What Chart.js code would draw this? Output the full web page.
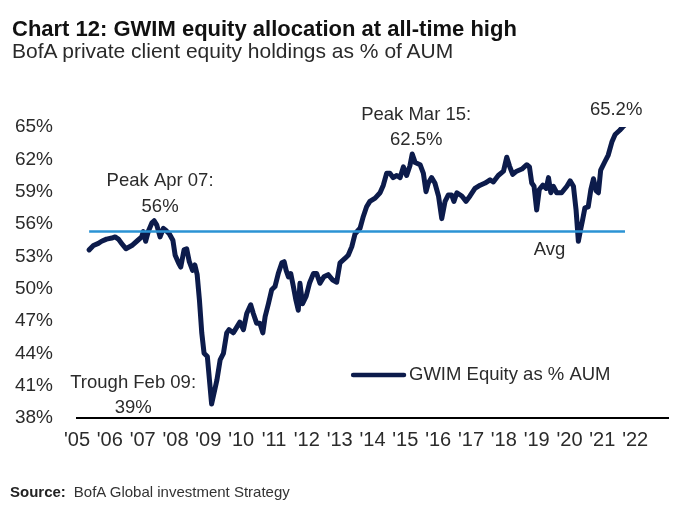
<!DOCTYPE html>
<html>
<head>
<meta charset="utf-8">
<script src="https://cdn.jsdelivr.net/npm/chart.js@4.4.0/dist/chart.umd.min.js"></script>
<style>
html,body{margin:0;padding:0;background:#fff;}
#wrap{position:relative;width:680px;height:515px;overflow:hidden;font-family:"Liberation Sans",Arial,sans-serif;background:#fff;}
#c{position:absolute;left:0;top:0;}
.t{position:absolute;white-space:nowrap;line-height:1;}
</style>
</head>
<body>
<div id="wrap">
  <canvas id="c" width="680" height="515"></canvas>
  <div class="t" id="title" style="left:12px;top:18.4px;font-size:22px;font-weight:bold;color:#111;">Chart 12: GWIM equity allocation at all-time high</div>
  <div class="t" id="subtitle" style="left:12px;top:40.2px;font-size:21px;color:#2a2a2a;">BofA private client equity holdings as % of AUM</div>
  <div class="t" id="source" style="left:10px;top:484.3px;font-size:15px;color:#222;"><b>Source:</b><span style="margin-left:8px;color:#333;">BofA Global investment Strategy</span></div>
</div>
<script>
// ---------------- DATA ----------------
const seriesLabel = 'GWIM Equity as % AUM';
const dates = [
  2005.37,2005.50,2005.65,2005.75,2005.90,2006.06,2006.16,2006.26,2006.36,2006.49,
  2006.67,2006.82,2006.97,2007.02,2007.09,2007.17,2007.28,2007.35,2007.43,2007.53,
  2007.63,2007.71,2007.81,2007.92,2007.99,2008.09,2008.16,2008.26,2008.34,2008.42,
  2008.52,2008.59,2008.66,2008.73,2008.80,2008.87,2008.97,2009.10,2009.26,2009.36,
  2009.46,2009.56,2009.63,2009.76,2009.96,2010.07,2010.17,2010.29,2010.37,2010.47,
  2010.57,2010.66,2010.73,2010.83,2010.93,2011.03,2011.13,2011.24,2011.31,2011.37,
  2011.44,2011.51,2011.59,2011.67,2011.74,2011.79,2011.87,2011.98,2012.08,2012.20,
  2012.30,2012.40,2012.52,2012.65,2012.79,2012.91,2013.01,2013.16,2013.26,2013.37,
  2013.47,2013.62,2013.72,2013.82,2013.92,2014.08,2014.23,2014.33,2014.43,2014.53,
  2014.63,2014.74,2014.84,2014.94,2015.04,2015.14,2015.21,2015.30,2015.45,2015.55,
  2015.63,2015.70,2015.80,2015.90,2016.01,2016.11,2016.21,2016.31,2016.41,2016.48,
  2016.57,2016.72,2016.85,2016.97,2017.12,2017.28,2017.43,2017.58,2017.68,2017.83,
  2017.99,2018.09,2018.17,2018.27,2018.39,2018.55,2018.70,2018.78,2018.85,2018.92,
  2019.00,2019.08,2019.19,2019.29,2019.36,2019.43,2019.51,2019.61,2019.76,2019.92,
  2020.02,2020.12,2020.20,2020.27,2020.34,2020.40,2020.47,2020.57,2020.65,2020.73,
  2020.81,2020.88,2020.95,2021.08,2021.18,2021.29,2021.39,2021.53,2021.62,2021.69
];
const values = [
  53.6,54.0,54.2,54.4,54.6,54.7,54.8,54.6,54.2,53.7,
  54.0,54.4,54.8,55.3,54.4,55.3,56.1,56.3,55.9,54.8,
  55.6,55.4,55.1,54.5,53.1,52.4,52.0,53.6,53.7,52.5,
  51.7,52.2,51.3,48.9,45.9,44.0,43.7,39.3,41.5,43.4,
  44.0,45.9,46.2,45.9,46.9,46.2,47.7,48.5,47.7,46.8,
  46.8,45.9,47.4,48.6,49.9,50.2,51.4,52.4,52.5,51.7,
  51.1,51.4,50.2,48.9,48.0,50.5,48.6,49.3,50.5,51.4,
  51.4,50.5,51.1,51.3,50.8,50.6,52.4,52.8,53.1,53.9,
  55.1,55.6,56.7,57.6,58.1,58.4,58.9,59.6,60.7,60.7,
  60.3,60.5,60.3,61.3,60.5,61.4,62.5,61.7,61.5,60.7,
  59.0,59.8,60.3,59.8,58.6,56.5,58.1,58.7,58.7,58.1,
  58.9,58.6,58.1,58.6,59.3,59.6,59.8,60.1,59.9,60.5,
  60.9,62.2,61.4,60.6,60.9,61.1,61.5,61.3,59.8,59.5,
  57.3,59.2,59.6,59.3,60.3,58.9,59.5,58.9,58.9,59.5,
  60.0,59.5,57.3,54.4,55.5,56.4,57.5,57.6,59.2,60.2,
  59.1,58.9,61.0,61.8,62.4,63.6,64.3,64.7,65.0,65.2
];
const avgValue = 55.3;
const avgDates = [2005.37, 2021.69];
const xTickYears = [2005,2006,2007,2008,2009,2010,2011,2012,2013,2014,2015,2016,2017,2018,2019,2020,2021,2022];
const xTickLabels = ["'05","'06","'07","'08","'09","'10","'11","'12","'13","'14","'15","'16","'17","'18","'19","'20","'21","'22"];
const yTicks = [38,41,44,47,50,53,56,59,62,65];
const annotationTexts = ['Peak Apr 07:','56%','Peak Mar 15:','62.5%','65.2%','Avg','Trough Feb 09:','39%'];

// ---------------- STYLE / LAYOUT ----------------
const FONT = '"Liberation Sans", Arial, sans-serif';
const NAVY = '#0c1b4b';
const BLUE = '#2b93d4';
const TXT = '#2b2b2b';

const annotationAnchors = [
  [2007.53, 60.0], [2007.53, 57.6],
  [2015.33, 66.1], [2015.33, 63.8],
  [2021.42, 66.6],
  [2019.39, 53.6],
  [2006.71, 41.3], [2006.71, 38.9]
];
const legendAnchor = {x0: 2013.41, x1: 2014.96, y: 42.0};

const annotPlugin = {
  id: 'annot',
  afterDatasetsDraw(chart) {
    const {ctx, scales: {x, y}} = chart;
    ctx.save();
    ctx.font = '18.5px ' + FONT;
    ctx.fillStyle = TXT;
    ctx.textAlign = 'center';
    ctx.textBaseline = 'middle';
    annotationTexts.forEach((t, i) => {
      const [ax, ay] = annotationAnchors[i];
      ctx.fillText(t, x.getPixelForValue(ax), y.getPixelForValue(ay));
    });
    // legend
    const lx0 = x.getPixelForValue(legendAnchor.x0);
    const lx1 = x.getPixelForValue(legendAnchor.x1);
    const ly = y.getPixelForValue(legendAnchor.y);
    ctx.strokeStyle = NAVY;
    ctx.lineWidth = 4.5;
    ctx.lineCap = 'round';
    ctx.beginPath();
    ctx.moveTo(lx0, ly);
    ctx.lineTo(lx1, ly);
    ctx.stroke();
    ctx.textAlign = 'left';
    ctx.fillText(chart.data.datasets[1].label, lx1 + 5, ly);
    ctx.restore();
  }
};

new Chart(document.getElementById('c'), {
  type: 'line',
  data: {
    datasets: [
      {
        label: 'Avg',
        data: avgDates.map(d => ({x: d, y: avgValue})),
        borderColor: BLUE,
        borderWidth: 2.5,
        pointRadius: 0,
        order: 0
      },
      {
        label: seriesLabel,
        data: dates.map((d, i) => ({x: d, y: values[i]})),
        borderColor: NAVY,
        borderWidth: 5,
        pointRadius: 0,
        tension: 0,
        borderJoinStyle: 'round',
        borderCapStyle: 'round',
        order: 1
      }
    ]
  },
  options: {
    responsive: false,
    animation: false,
    events: [],
    layout: {padding: {top: 127, right: 12, left: 0, bottom: 0}},
    plugins: {legend: {display: false}, tooltip: {enabled: false}, title: {display: false}},
    scales: {
      x: {
        type: 'linear',
        min: 2005,
        max: 2023,
        grid: {display: false, drawTicks: false},
        border: {display: true, color: '#000', width: 2},
        ticks: {
          padding: 10,
          color: TXT,
          font: {family: FONT, size: 20},
          maxRotation: 0,
          autoSkip: false,
          callback: v => { const k = xTickYears.indexOf(v); return k >= 0 ? xTickLabels[k] : ''; }
        },
        afterBuildTicks: s => { s.ticks = xTickYears.map(v => ({value: v})); },
        afterFit: s => { s.height = 97; }
      },
      y: {
        min: 38,
        max: 65,
        grid: {display: false, drawTicks: false},
        border: {display: false},
        ticks: {
          padding: 24,
          color: TXT,
          font: {family: FONT, size: 19},
          callback: v => v + '%'
        },
        afterBuildTicks: s => { s.ticks = yTicks.map(v => ({value: v})); },
        afterFit: s => { s.width = 77; }
      }
    }
  },
  plugins: [annotPlugin]
});
</script>
</body>
</html>
